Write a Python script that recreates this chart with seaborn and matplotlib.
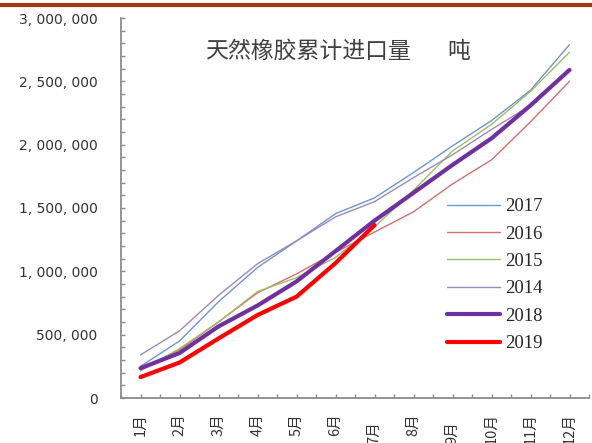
import matplotlib.pyplot as plt
import numpy as np
import pandas as pd
import seaborn as sns
from matplotlib.lines import Line2D
from matplotlib.ticker import FuncFormatter, FixedLocator
from matplotlib.transforms import ScaledTranslation

# Data (cumulative natural rubber imports, tonnes)
months = ['1月', '2月', '3月', '4月', '5月', '6月', '7月', '8月', '9月', '10月', '11月', '12月']
y2017 = [250000, 450000, 760000, 1030000, 1240000, 1455000, 1580000, 1780000, 1990000, 2190000, 2430000, 2790000]
y2016 = [225000, 380000, 600000, 830000, 980000, 1150000, 1310000, 1470000, 1690000, 1880000, 2180000, 2500000]
y2015 = [215000, 390000, 600000, 840000, 950000, 1110000, 1350000, 1640000, 1950000, 2160000, 2420000, 2730000]
y2014 = [340000, 530000, 810000, 1060000, 1240000, 1430000, 1550000, 1740000, 1920000, 2120000, 2310000, 2595000]
y2018 = [235000, 355000, 565000, 730000, 920000, 1160000, 1400000, 1620000, 1840000, 2050000, 2310000, 2590000]
y2019 = [165000, 280000, 470000, 655000, 800000, 1065000, 1365000]

series = [
    ('2017', y2017, '#6F96CC', 1.0),
    ('2016', y2016, '#D2716E', 1.0),
    ('2015', y2015, '#9DBD62', 1.0),
    ('2014', y2014, '#9C89BE', 1.0),
    ('2018', y2018, '#7030A0', 3.0),
    ('2019', y2019, '#FF0000', 3.0),
]

sns.set_style('white')
plt.rcParams['font.family'] = ['Noto Sans CJK SC', 'DejaVu Sans']

W, H = 592, 443
fig = plt.figure(figsize=(W / 100, H / 100), dpi=100)
ax = fig.add_axes([121 / W, 1 - 398 / H, (589 - 121) / W, (398 - 18) / H])

for name, vals, color, lw in series:
    df = pd.DataFrame({'x': np.arange(len(vals)), 'v': vals})
    sns.lineplot(data=df, x='x', y='v', ax=ax, color=color, linewidth=lw,
                 label=name, legend=False)

ax.set_xlim(-0.5, 11.5)
ax.set_ylim(0, 3000000)
ax.set_xlabel('')
ax.set_ylabel('')

# axes look
for s in ['top', 'right']:
    ax.spines[s].set_visible(False)
for s in ['left', 'bottom']:
    ax.spines[s].set_color('#8C8C8C')
    ax.spines[s].set_linewidth(1.3)

ax.yaxis.set_major_locator(FixedLocator(np.arange(0, 3000001, 500000)))
ax.yaxis.set_minor_locator(FixedLocator(np.arange(0, 3000001, 100000)))
ax.yaxis.set_major_formatter(FuncFormatter(lambda v, p: f'{v:,.0f}'.replace(',', ', ')))
ax.xaxis.set_major_locator(FixedLocator(np.arange(12)))
ax.xaxis.set_minor_locator(FixedLocator(np.arange(-0.5, 12, 1.0)))
ax.set_xticklabels(months)

ax.tick_params(axis='y', which='both', direction='in', length=3, width=1,
               color='#8C8C8C', left=True, pad=17)
ax.tick_params(axis='y', which='major', labelsize=10, labelcolor='#333333')
ax.tick_params(axis='x', which='both', direction='in', length=3, width=1,
               color='#8C8C8C', bottom=True, pad=11)
ax.tick_params(axis='x', which='major', labelsize=10.5, labelcolor='#333333',
               labelrotation=90)
for lbl in ax.yaxis.get_ticklabels():
    lbl.set_family(['DejaVu Sans'])

# 7月 and 9月 sit a little lower in the original
for lbl in ax.get_xticklabels():
    if lbl.get_text() in ('7月', '9月'):
        lbl.set_transform(lbl.get_transform() + ScaledTranslation(0, -8 / 100, fig.dpi_scale_trans))

# legend
handles = [Line2D([], [], color=c, lw=lw) for _, _, c, lw in series]
labels = [n for n, _, _, _ in series]
ax.legend(handles, labels, loc='upper left', bbox_to_anchor=(447 / W, 1 - 198 / H),
          bbox_transform=fig.transFigure, frameon=False, borderpad=0, borderaxespad=0,
          handlelength=2.8, handletextpad=0.3, labelspacing=0.55,
          prop={'family': 'Liberation Serif', 'size': 13.5})

# title
fig.text(205 / W, 1 - 51 / H, '天然橡胶累计进口量', ha='left', va='center',
         fontsize=16.5, color='#404040')
fig.text(447 / W, 1 - 51 / H, '吨', ha='left', va='center',
         fontsize=16.5, color='#404040')

# brown rule across the top
fig.add_artist(Line2D([0, 1], [1 - 5 / H, 1 - 5 / H], transform=fig.transFigure,
                      color='#9E3A0B', linewidth=3))

fig.savefig('out.png', dpi=100)
